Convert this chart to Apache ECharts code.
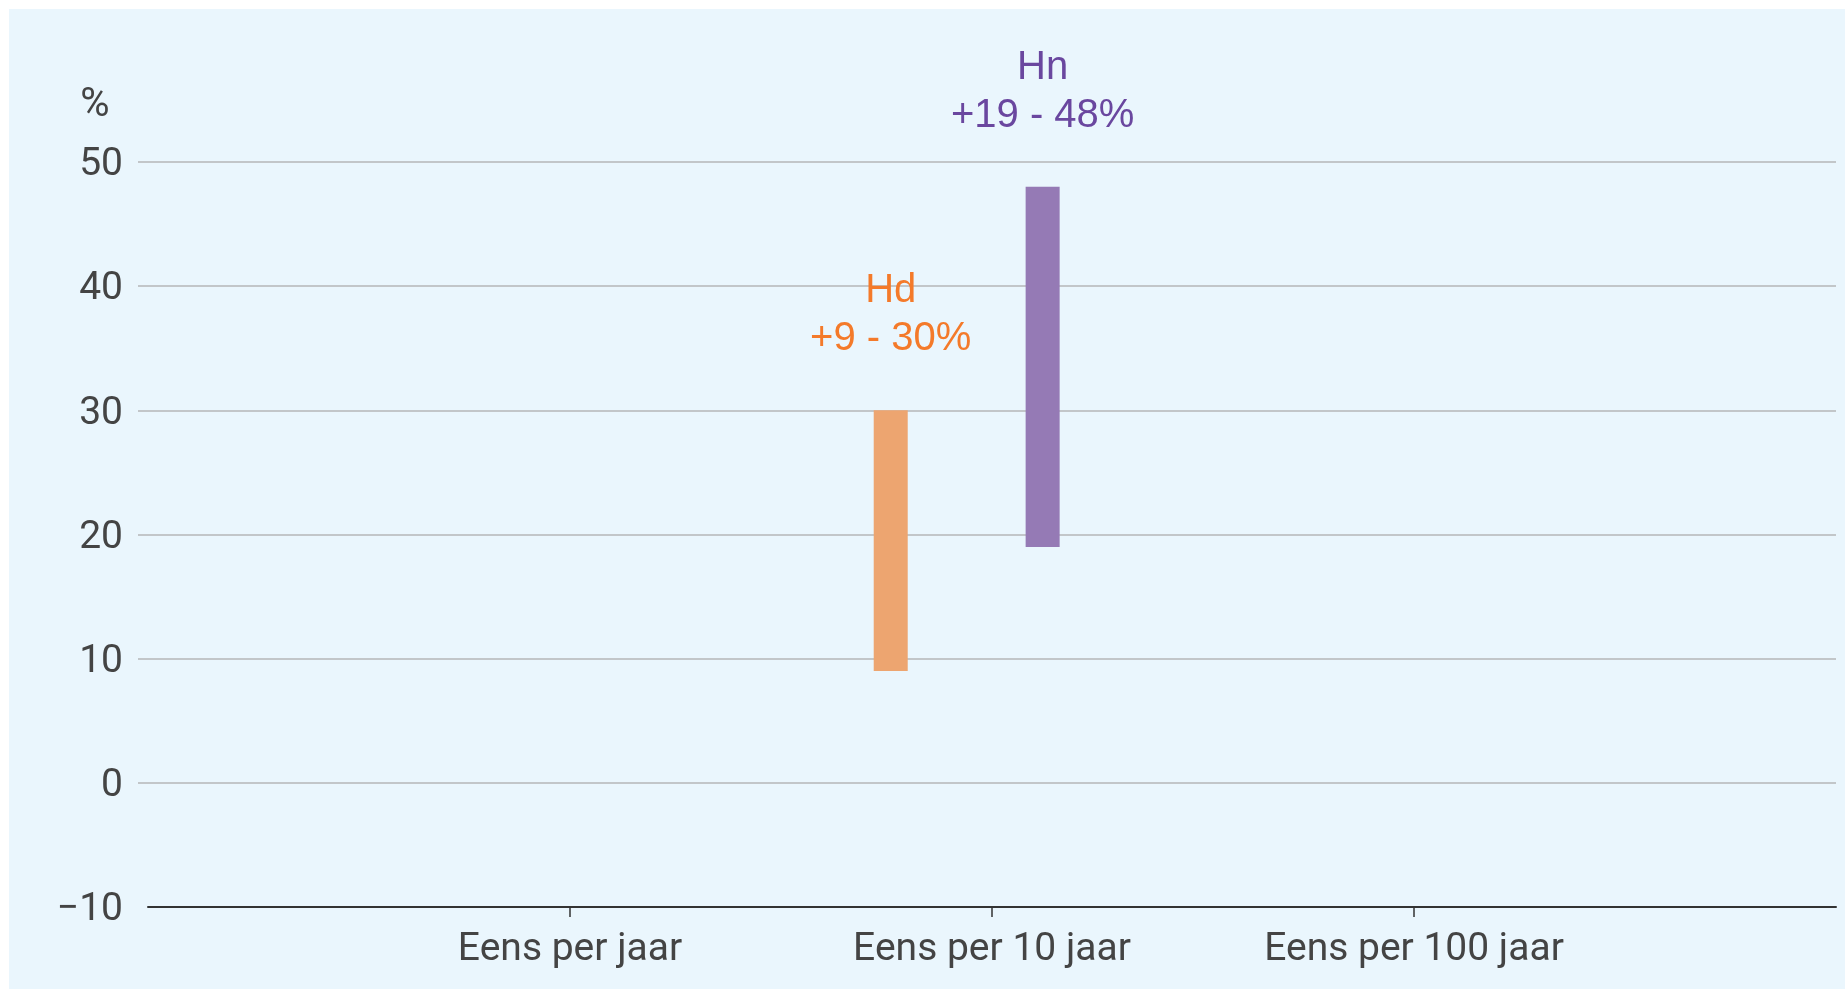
<!DOCTYPE html>
<html lang="nl">
<head>
<meta charset="utf-8">
<title>Toename neerslagintensiteit</title>
<script src="https://cdn.jsdelivr.net/npm/echarts@6/dist/echarts.min.js"></script>
<style>
  html, body { margin: 0; padding: 0; background: #ffffff; }
  #chart {
    position: absolute;
    left: 9px;
    top: 9px;
    width: 1836px;
    height: 980px;
    background: #EAF6FD;
  }
</style>
</head>
<body>
<div id="chart"></div>
<script>
// Return periods on the horizontal axis
const categories = ['Eens per jaar', 'Eens per 10 jaar', 'Eens per 100 jaar'];

// Vertical axis range (percent change)
const yMin = -10;
const yMax = 50;
const yStep = 10;

// Ranges of increase per scenario: lower and upper bound in %
const rangeNames = ['Hd', 'Hn'];
const rangeCategory = ['Eens per 10 jaar', 'Eens per 10 jaar'];
const rangeLow = [9, 19];
const rangeHigh = [30, 48];

// Presentation
const LABEL_FONT = 'Roboto, "Open Sans", sans-serif';
const VALUE_FONT = '"Liberation Sans", Arial, sans-serif';
const barStyle = {
  Hd: { fill: '#EDA570', text: '#F47A2A', shift: -0.24 },
  Hn: { fill: '#957AB5', text: '#6A479F', shift: 0.12 }
};
const BAR_WIDTH = 34;

const chart = echarts.init(document.getElementById('chart'), null, { renderer: 'canvas' });

function renderRange(name) {
  const st = barStyle[name];
  return function (params, api) {
    const pos = api.value(0);
    const lo = api.value(1);
    const hi = api.value(2);
    const band = api.size([1, 0])[0];
    const pTop = api.coord([pos, hi]);
    const pBot = api.coord([pos, lo]);
    const cx = pTop[0] + st.shift * band;
    return {
      type: 'group',
      children: [
        {
          type: 'rect',
          shape: { x: cx - BAR_WIDTH / 2, y: pTop[1], width: BAR_WIDTH, height: pBot[1] - pTop[1] },
          style: { fill: st.fill }
        },
        {
          type: 'text',
          x: cx,
          y: pTop[1] - 47,
          style: {
            text: name + '\n+' + lo + ' - ' + hi + '%',
            fill: st.text,
            fontSize: 40,
            fontFamily: VALUE_FONT,
            align: 'center',
            verticalAlign: 'bottom',
            lineHeight: 48
          }
        }
      ]
    };
  };
}

const series = rangeNames.map(function (name, i) {
  return {
    name: name,
    type: 'custom',
    xAxisIndex: 1,
    yAxisIndex: 1,
    encode: { x: 0, y: [1, 2] },
    renderItem: renderRange(name),
    data: [[categories.indexOf(rangeCategory[i]) + 1, rangeLow[i], rangeHigh[i]]],
    z: 5
  };
});

const gridLineColors = [];
for (let v = yMin; v <= yMax; v += yStep) {
  gridLineColors.push(v === yMin ? 'rgba(0,0,0,0)' : '#C2C6C9');
}

const option = {
  backgroundColor: 'transparent',
  animation: false,
  grid: [
    { left: 129, right: 9, top: 153, bottom: 82 },
    { left: 139, right: 9, top: 153, bottom: 82 }
  ],
  xAxis: [
    { gridIndex: 0, type: 'value', min: 0, max: categories.length + 1, show: false },
    {
      gridIndex: 1,
      type: 'value',
      min: 0,
      max: categories.length + 1,
      interval: 1,
      axisLine: { onZero: false, lineStyle: { color: '#333333', width: 2 } },
      axisTick: {
        show: true,
        customValues: [1, 2, 3],
        length: 10,
        lineStyle: { color: '#333333', width: 1.5 }
      },
      axisLabel: {
        customValues: [1, 2, 3],
        margin: 24,
        color: '#444444',
        fontSize: 39,
        fontFamily: LABEL_FONT,
        formatter: function (v) { return categories[v - 1] || ''; }
      },
      splitLine: { show: false }
    }
  ],
  yAxis: [
    {
      gridIndex: 0,
      type: 'value',
      min: yMin,
      max: yMax,
      interval: yStep,
      axisLine: { show: false },
      axisTick: { show: false },
      axisLabel: {
        margin: 15,
        color: '#444444',
        fontSize: 39,
        fontFamily: LABEL_FONT,
        formatter: function (v) {
          return '{t|' + (v < 0 ? '\u2212' + Math.abs(v) : String(v)) + '}';
        },
        rich: {
          t: {
            color: '#444444',
            fontSize: 39,
            fontFamily: LABEL_FONT,
            padding: [7, 0, 0, 0]
          }
        }
      },
      splitLine: { show: true, lineStyle: { color: gridLineColors, width: 2 } }
    },
    { gridIndex: 1, type: 'value', min: yMin, max: yMax, interval: yStep, show: false }
  ],
  graphic: [
    {
      type: 'text',
      x: 86,
      y: 97,
      style: {
        text: '%',
        fill: '#444444',
        fontSize: 40,
        fontFamily: LABEL_FONT,
        align: 'center',
        verticalAlign: 'middle'
      }
    }
  ],
  series: series
};

chart.setOption(option);
</script>
</body>
</html>
